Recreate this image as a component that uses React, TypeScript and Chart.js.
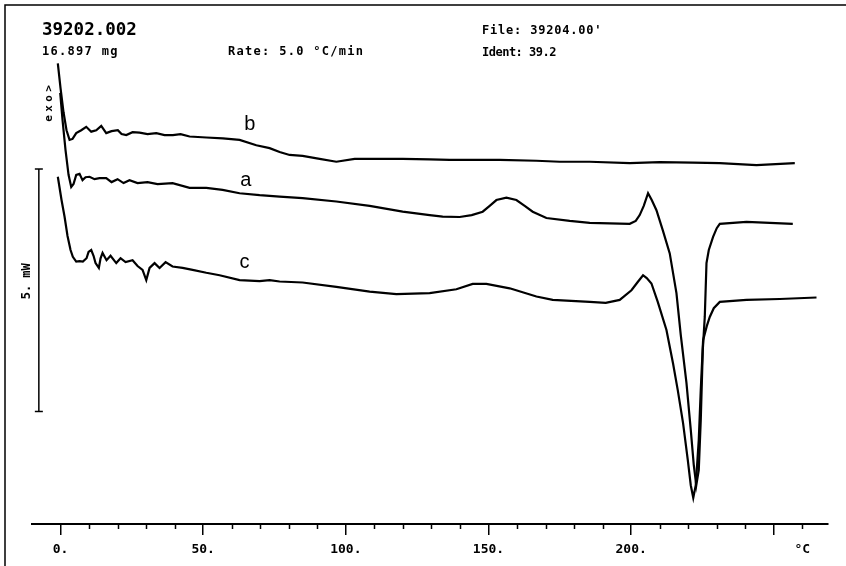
import React, { useEffect, useRef } from 'react';
import { Chart, registerables } from 'chart.js';

Chart.register(...registerables);

// ---- data (temperature in °C, heat flow in mW) ----
const tempB = [-0.95, 0, 1.05, 2.1, 3.16, 4.21, 5.5, 7.26, 9.01, 10.76, 12.52, 14.27, 16.02, 17.88, 20.09, 21.39, 23.04, 25.25, 27.7, 30.5, 33.56, 36.47, 39.38, 42.08, 45.23, 51.09, 56.91, 62.76, 68.62, 73.28, 76.79, 80.29, 84.85, 90.81, 96.67, 103.09, 111.85, 119.92, 129.38, 136.4, 143.41, 153.93, 166.8, 175.0, 185.48, 199.51, 210.03, 221.6, 231.07, 243.93, 257.36];
const heatB = [9.5, 8.99, 8.49, 8.12, 7.92, 7.94, 8.06, 8.12, 8.19, 8.09, 8.12, 8.21, 8.06, 8.1, 8.12, 8.04, 8.02, 8.08, 8.07, 8.04, 8.06, 8.02, 8.02, 8.04, 7.99, 7.97, 7.95, 7.92, 7.81, 7.75, 7.67, 7.61, 7.59, 7.53, 7.47, 7.53, 7.53, 7.53, 7.52, 7.51, 7.51, 7.51, 7.49, 7.47, 7.47, 7.44, 7.46, 7.45, 7.44, 7.4, 7.44];

const tempA = [-0.11, 0.7, 1.75, 2.81, 3.75, 4.56, 5.5, 6.66, 7.71, 8.77, 10.17, 11.92, 13.67, 16.02, 17.88, 19.99, 22.09, 24.19, 26.99, 30.5, 34.01, 39.27, 45.23, 51.09, 56.8, 62.76, 69.78, 76.79, 84.85, 96.67, 108.35, 119.92, 129.38, 133.94, 139.9, 144.11, 147.97, 150.42, 152.77, 156.28, 159.78, 162.69, 165.5, 170.3, 178.47, 185.48, 192.5, 199.51, 201.61, 203.0, 204.42, 205.93, 207.22, 208.87, 211.08, 213.53, 215.88, 217.39, 219.39, 220.9, 221.95, 222.83, 223.7, 224.4, 225.11, 225.81, 226.41, 227.22, 228.72, 230.01, 231.07, 240.43, 248.6, 256.66];
const heatA = [8.89, 8.33, 7.71, 7.2, 6.95, 7.01, 7.2, 7.22, 7.09, 7.15, 7.16, 7.11, 7.13, 7.13, 7.05, 7.11, 7.03, 7.09, 7.03, 7.05, 7.01, 7.03, 6.93, 6.93, 6.89, 6.82, 6.78, 6.75, 6.72, 6.65, 6.56, 6.44, 6.37, 6.34, 6.33, 6.37, 6.44, 6.56, 6.68, 6.73, 6.68, 6.56, 6.44, 6.31, 6.25, 6.21, 6.2, 6.19, 6.25, 6.37, 6.56, 6.82, 6.68, 6.47, 6.06, 5.58, 4.76, 3.9, 2.91, 1.94, 1.22, 0.8, 1.11, 2.14, 3.59, 4.27, 5.38, 5.65, 5.92, 6.1, 6.19, 6.23, 6.21, 6.19];

const tempC = [-0.95, 0.35, 1.4, 2.45, 3.51, 4.31, 5.5, 6.66, 7.82, 9.12, 9.82, 10.76, 11.57, 12.27, 13.43, 14.03, 14.73, 16.13, 17.53, 19.53, 21.04, 22.79, 25.25, 27.0, 28.75, 30.05, 31.21, 32.96, 34.71, 36.82, 39.27, 42.78, 46.28, 51.09, 55.75, 62.76, 69.78, 73.28, 76.79, 84.85, 96.67, 108.35, 117.71, 129.38, 138.74, 144.46, 149.26, 157.43, 166.8, 172.51, 185.48, 191.09, 196.0, 200.11, 202.31, 204.17, 205.47, 207.12, 209.33, 212.38, 214.69, 216.34, 218.2, 219.85, 220.9, 221.78, 222.65, 223.7, 224.4, 225.22, 226.51, 227.56, 228.96, 231.07, 240.43, 252.1, 264.97];
const heatC = [7.16, 6.68, 6.34, 5.94, 5.65, 5.51, 5.41, 5.42, 5.41, 5.48, 5.61, 5.65, 5.53, 5.38, 5.28, 5.48, 5.59, 5.44, 5.53, 5.38, 5.48, 5.4, 5.44, 5.32, 5.24, 5.03, 5.28, 5.38, 5.28, 5.4, 5.31, 5.28, 5.24, 5.18, 5.13, 5.03, 5.01, 5.03, 5.0, 4.98, 4.89, 4.79, 4.74, 4.76, 4.84, 4.95, 4.95, 4.86, 4.69, 4.62, 4.58, 4.56, 4.62, 4.82, 4.99, 5.13, 5.07, 4.96, 4.58, 4.0, 3.31, 2.76, 2.08, 1.32, 0.8, 0.54, 0.8, 1.73, 2.76, 3.79, 4.08, 4.27, 4.45, 4.58, 4.62, 4.64, 4.67];

// 5 mW scale bar
const scaleBarTemp = [-7.6, -7.6];
const scaleBarHeat = [2.32, 7.32];
const scaleBarText = '5. mW';

// curve labels
const curveLabelText = ['b', 'a', 'c'];
const curveLabelTemp = [66.3, 64.9, 64.5];
const curveLabelHeat = [8.23, 7.09, 5.4];

// "exo >" marker
const exoText = ['>', 'o', 'x', 'e'];
const exoTemp = -3.9;
const exoHeat = 8.67;

// x-axis
const xMin = -10;
const xMax = 269;
const majorTicks = [0, 50, 100, 150, 200, 250];
const labeledTicks = [0, 50, 100, 150, 200];
const unitTick = 260;
const unitLabel = '°C';

// header texts
const headerTitle = '39202.002';
const headerMass = '16.897 mg';
const headerRate = 'Rate: 5.0 °C/min';
const headerFile = "File: 39204.00'";
const headerIdent = 'Ident: 39.2';

const zip = (xs: number[], ys: number[]) => xs.map((x, i) => ({ x, y: ys[i] }));

const decor = {
  id: 'decor',
  beforeDraw(chart: any) {
    const { ctx, width, height } = chart;
    ctx.save();
    ctx.fillStyle = '#fff';
    ctx.fillRect(0, 0, width, height);
    ctx.restore();
  },
  afterDraw(chart: any) {
    const { ctx, chartArea } = chart;
    const xs = chart.scales.x;
    const ys = chart.scales.y;
    ctx.save();
    // frame
    ctx.strokeStyle = '#000';
    ctx.lineWidth = 1.5;
    ctx.beginPath();
    ctx.moveTo(5, chart.height);
    ctx.lineTo(5, 5);
    ctx.lineTo(chart.width, 5);
    ctx.stroke();
    // minor ticks
    ctx.lineWidth = 1.5;
    ctx.beginPath();
    for (let v = 0; v <= 260; v += 10) {
      if (majorTicks.includes(v)) continue;
      const px = Math.round(xs.getPixelForValue(v)) + 0.5;
      ctx.moveTo(px, chartArea.bottom);
      ctx.lineTo(px, chartArea.bottom + 5);
    }
    ctx.stroke();
    // scale bar label
    const barX = xs.getPixelForValue(scaleBarTemp[0]);
    const barY = (ys.getPixelForValue(scaleBarHeat[0]) + ys.getPixelForValue(scaleBarHeat[1])) / 2;
    ctx.fillStyle = '#000';
    ctx.save();
    ctx.translate(barX - 12, barY - 9);
    ctx.rotate(-Math.PI / 2);
    ctx.font = 'bold 12px "DejaVu Sans Mono"';
    ctx.textAlign = 'center';
    ctx.textBaseline = 'middle';
    ctx.fillText(scaleBarText, 0, 0);
    ctx.restore();
    // exo marker
    const ex = xs.getPixelForValue(exoTemp);
    const ey = ys.getPixelForValue(exoHeat);
    ctx.font = 'bold 11px "DejaVu Sans Mono"';
    ctx.textAlign = 'center';
    ctx.textBaseline = 'middle';
    exoText.forEach((ch, i) => {
      ctx.save();
      ctx.translate(ex, ey - 15 + i * 10);
      ctx.rotate(-Math.PI / 2);
      ctx.fillText(ch, 0, 0);
      ctx.restore();
    });
    // curve labels
    ctx.font = '20px "Liberation Sans"';
    curveLabelText.forEach((t, i) => {
      ctx.fillText(t, xs.getPixelForValue(curveLabelTemp[i]), ys.getPixelForValue(curveLabelHeat[i]));
    });
    ctx.restore();
  },
};

const lineDs = (label: string, xs: number[], ys: number[]) => ({
  label,
  data: zip(xs, ys),
  borderColor: '#000',
  borderWidth: 2.2,
  pointRadius: 0,
  tension: 0,
  fill: false,
});

export default function App() {
  const ref = useRef<HTMLCanvasElement>(null);
  useEffect(() => {
    if (!ref.current) return;
    const chart = new Chart(ref.current, {
      type: 'line',
      data: {
        datasets: [
          lineDs('b', tempB, heatB),
          lineDs('a', tempA, heatA),
          lineDs('c', tempC, heatC),
          {
            label: 'scale',
            data: zip(scaleBarTemp, scaleBarHeat),
            borderColor: '#000',
            borderWidth: 1.5,
            pointStyle: 'line',
            pointRadius: 4,
            pointBorderWidth: 1.5,
            pointBorderColor: '#000',
            fill: false,
          } as any,
        ],
      },
      options: {
        animation: false,
        responsive: false,
        layout: { padding: { left: 32, right: 18, top: 8, bottom: 0 } },
        plugins: { legend: { display: false }, tooltip: { enabled: false }, title: { display: false } },
        scales: {
          x: {
            type: 'linear',
            min: xMin,
            max: xMax,
            border: { display: true, color: '#000', width: 2 },
            grid: {
              drawOnChartArea: false,
              drawTicks: true,
              tickLength: 11,
              lineWidth: 1.5,
              color: (c: any) => (c.tick && majorTicks.includes(c.tick.value) ? '#000' : 'rgba(0,0,0,0)'),
            },
            ticks: {
              stepSize: 10,
              includeBounds: false,
              autoSkip: false,
              maxRotation: 0,
              padding: 7,
              color: '#000',
              font: { family: '"DejaVu Sans Mono"', weight: 'bold', size: 13 },
              callback: (v: any) => {
                const n = Number(v);
                if (labeledTicks.includes(n)) return `${n}.`;
                if (n === unitTick) return unitLabel;
                return '';
              },
            },
            afterFit: (s: any) => {
              s.height = 42;
            },
          },
          y: { display: false, min: 0, max: 10.64 },
        },
      },
      plugins: [decor],
    });
    return () => chart.destroy();
  }, []);

  const mono = '"DejaVu Sans Mono", monospace';
  const txt = (top: number, left: number, size: number, ls: number): React.CSSProperties => ({
    position: 'absolute',
    top,
    left,
    fontFamily: mono,
    fontWeight: 'bold',
    fontSize: size,
    lineHeight: `${size}px`,
    letterSpacing: ls,
    whiteSpace: 'pre',
    color: '#000',
  });

  return (
    <div style={{ position: 'fixed', left: 0, top: 0, width: 846, height: 566, background: '#fff' }}>
      <canvas ref={ref} width={846} height={566} style={{ display: 'block', width: 846, height: 566 }} />
      <div style={txt(21, 42, 17.5, 0)}>{headerTitle}</div>
      <div style={txt(45, 42, 12, 1.3)}>{headerMass}</div>
      <div style={txt(45, 228, 12, 1.3)}>{headerRate}</div>
      <div style={txt(24, 482, 12, 0.8)}>{headerFile}</div>
      <div style={txt(46, 482, 12, -0.5)}>{headerIdent}</div>
    </div>
  );
}
